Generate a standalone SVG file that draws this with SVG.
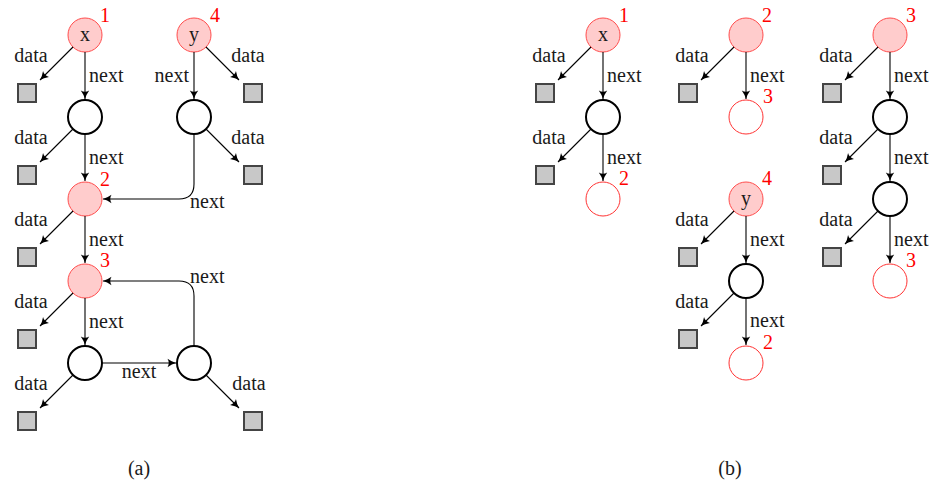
<svg xmlns="http://www.w3.org/2000/svg" width="932" height="484" viewBox="0 0 932 484">
<style>
text{font-family:"Liberation Serif","Times New Roman",serif;font-size:20px;fill:#1a1a1a}
.num{fill:#ff0000}
.m{text-anchor:middle}
.e{text-anchor:end}
.pk{fill:#ffcccc;stroke:#ff4d4d;stroke-width:1}
.bk{fill:#ffffff;stroke:#000;stroke-width:2}
.rd{fill:#ffffff;stroke:#ff3333;stroke-width:1}
.sq{fill:#c8c8c8;stroke:#444;stroke-width:2}
.c path{fill:none;stroke:#000;stroke-width:1.1;marker-end:url(#ah)}
</style>
<defs>
<marker id="ah" markerWidth="12" markerHeight="12" refX="10" refY="6" orient="auto" markerUnits="userSpaceOnUse" viewBox="0 0 12 12">
<path d="M1.5,1.8 Q6,5 10,6 Q6,7 1.5,10.2 Q4,6 1.5,1.8 Z" fill="#000"/>
</marker>
</defs>
<rect width="932" height="484" fill="#fff"/>

<!-- Panel (a) nodes -->
<g id="a-x"><circle class="pk" cx="85" cy="35" r="17"/><text class="m" x="85" y="41">x</text><text class="num" x="100" y="22">1</text></g>
<g id="a-n1"><circle class="bk" cx="85" cy="117" r="17"/></g>
<g id="a-n2"><circle class="pk" cx="85" cy="199" r="17"/><text class="num" x="100" y="186">2</text></g>
<g id="a-n3"><circle class="pk" cx="85" cy="281" r="17"/><text class="num" x="100" y="267">3</text></g>
<g id="a-n4"><circle class="bk" cx="85" cy="363" r="17"/></g>
<g id="a-y"><circle class="pk" cx="194" cy="35" r="17"/><text class="m" x="194" y="41">y</text><text class="num" x="210" y="22">4</text></g>
<g id="a-m1"><circle class="bk" cx="194" cy="117" r="17"/></g>
<g id="a-m4"><circle class="bk" cx="194" cy="363" r="17"/></g>
<g id="a-d0"><rect class="sq" x="18" y="84" width="18" height="18"/></g>
<g id="a-d1"><rect class="sq" x="18" y="166" width="18" height="18"/></g>
<g id="a-d2"><rect class="sq" x="18" y="248" width="18" height="18"/></g>
<g id="a-d3"><rect class="sq" x="18" y="330" width="18" height="18"/></g>
<g id="a-d4"><rect class="sq" x="18" y="412" width="18" height="18"/></g>
<g id="a-e0"><rect class="sq" x="244" y="84" width="18" height="18"/></g>
<g id="a-e1"><rect class="sq" x="244" y="166" width="18" height="18"/></g>
<g id="a-e4"><rect class="sq" x="244" y="412" width="18" height="18"/></g>

<!-- Panel (b) nodes -->
<g id="b1-x"><circle class="pk" cx="603" cy="35" r="17"/><text class="m" x="603" y="41">x</text><text class="num" x="619" y="22">1</text></g>
<g id="b1-n1"><circle class="bk" cx="603" cy="117" r="17"/></g>
<g id="b1-n2"><circle class="rd" cx="603" cy="199" r="17"/><text class="num" x="619" y="185">2</text></g>
<g id="b1-d0"><rect class="sq" x="536" y="84" width="18" height="18"/></g>
<g id="b1-d1"><rect class="sq" x="536" y="166" width="18" height="18"/></g>

<g id="b2-n0"><circle class="pk" cx="746" cy="35" r="17"/><text class="num" x="762" y="22">2</text></g>
<g id="b2-n1"><circle class="rd" cx="746" cy="117" r="17"/><text class="num" x="763" y="103">3</text></g>
<g id="b2-d0"><rect class="sq" x="679" y="84" width="18" height="18"/></g>

<g id="b4-y"><circle class="pk" cx="746" cy="199" r="17"/><text class="m" x="746" y="205">y</text><text class="num" x="762" y="185">4</text></g>
<g id="b4-n1"><circle class="bk" cx="746" cy="281" r="17"/></g>
<g id="b4-n2"><circle class="rd" cx="746" cy="363" r="17"/><text class="num" x="763" y="349">2</text></g>
<g id="b4-d0"><rect class="sq" x="679" y="248" width="18" height="18"/></g>
<g id="b4-d1"><rect class="sq" x="679" y="330" width="18" height="18"/></g>

<g id="b3-n0"><circle class="pk" cx="890" cy="35" r="17"/><text class="num" x="906" y="22">3</text></g>
<g id="b3-n1"><circle class="bk" cx="890" cy="117" r="17"/></g>
<g id="b3-n2"><circle class="bk" cx="890" cy="199" r="17"/></g>
<g id="b3-n3"><circle class="rd" cx="890" cy="281" r="17"/><text class="num" x="906" y="267">3</text></g>
<g id="b3-d0"><rect class="sq" x="823" y="84" width="18" height="18"/></g>
<g id="b3-d1"><rect class="sq" x="823" y="166" width="18" height="18"/></g>
<g id="b3-d2"><rect class="sq" x="823" y="248" width="18" height="18"/></g>

<!-- Connectors -->
<g id="connectors" class="c">
<!-- (a) left column -->
<path d="M73,47 L40,80"/><path d="M85,52 L85,99"/>
<path d="M73,129 L40,162"/><path d="M85,134 L85,181"/>
<path d="M73,211 L40,244"/><path d="M85,216 L85,263"/>
<path d="M73,293 L40,326"/><path d="M85,298 L85,345"/>
<path d="M73,375 L40,408"/><path d="M102,363 L176,363"/>
<!-- (a) right column -->
<path d="M206,47 L239,80"/><path d="M194,52 L194,99"/>
<path d="M206,129 L239,162"/><path d="M194,134 L194,184 Q194,199 179,199 L103,199"/>
<path d="M206,375 L239,408"/><path d="M194,346 L194,296 Q194,281 179,281 L103,281"/>
<!-- (b) col1 -->
<path d="M591,47 L558,80"/><path d="M603,52 L603,99"/>
<path d="M591,129 L558,162"/><path d="M603,134 L603,181"/>
<!-- (b) col2 -->
<path d="M734,47 L701,80"/><path d="M746,52 L746,99"/>
<path d="M734,211 L701,244"/><path d="M746,216 L746,263"/>
<path d="M734,293 L701,326"/><path d="M746,298 L746,345"/>
<!-- (b) col3 -->
<path d="M878,47 L845,80"/><path d="M890,52 L890,99"/>
<path d="M878,129 L845,162"/><path d="M890,134 L890,181"/>
<path d="M878,211 L845,244"/><path d="M890,216 L890,263"/>
</g>

<!-- Edge labels (a) -->
<g id="labels-a">
<text class="m" x="31" y="62">data</text><text x="89" y="82">next</text>
<text class="m" x="31" y="144">data</text><text x="89" y="164">next</text>
<text class="m" x="31" y="226">data</text><text x="89" y="246">next</text>
<text class="m" x="31" y="308">data</text><text x="89" y="328">next</text>
<text class="m" x="31" y="390">data</text><text class="m" x="139" y="378">next</text>
<text class="m" x="248" y="62">data</text><text class="e" x="189" y="82">next</text>
<text class="m" x="248" y="144">data</text><text x="190" y="208">next</text>
<text x="190" y="283">next</text><text class="m" x="249" y="390">data</text>
<text class="m" x="139" y="475">(a)</text>
</g>
<!-- Edge labels (b) -->
<g id="labels-b">
<text class="m" x="549" y="62">data</text><text x="607" y="82">next</text>
<text class="m" x="549" y="144">data</text><text x="607" y="164">next</text>
<text class="m" x="692" y="62">data</text><text x="750" y="82">next</text>
<text class="m" x="692" y="226">data</text><text x="750" y="246">next</text>
<text class="m" x="692" y="308">data</text><text x="750" y="327">next</text>
<text class="m" x="836" y="62">data</text><text x="894" y="82">next</text>
<text class="m" x="836" y="144">data</text><text x="894" y="164">next</text>
<text class="m" x="836" y="226">data</text><text x="894" y="246">next</text>
<text class="m" x="730" y="475">(b)</text>
</g>
</svg>
